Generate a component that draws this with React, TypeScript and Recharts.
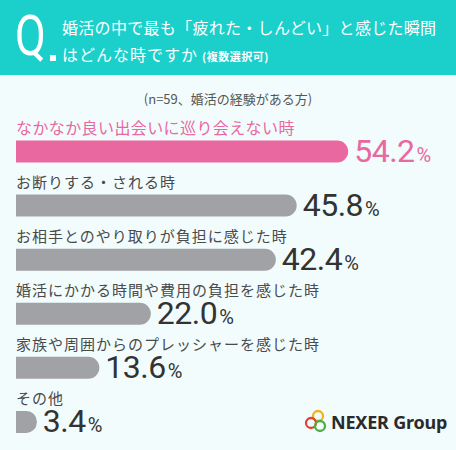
import React from 'react'
import { BarChart, Bar, XAxis, YAxis, LabelList, Cell } from 'recharts'

const categories = [
  'なかなか良い出会いに巡り会えない時',
  'お断りする・される時',
  'お相手とのやり取りが負担に感じた時',
  '婚活にかかる時間や費用の負担を感じた時',
  '家族や周囲からのプレッシャーを感じた時',
  'その他',
]
const values = [54.2, 45.8, 42.4, 22.0, 13.6, 3.4]

const PINK = '#e9689f'
const GREY = '#a1a2a6'
const TEAL = '#1bcfcb'
const FONT = '"Noto Sans CJK JP", "Noto Sans", sans-serif'

const data = categories.map((name, i) => ({ name, value: values[i], top: i === 0 }))

// category name sits just above its bar
const CategoryLabel = (props: any) => {
  const { x, y, index } = props
  const top = index === 0
  return (
    <text
      x={x}
      y={y - 7}
      fill={top ? PINK : '#4a4a4a'}
      fontSize={top ? 16 : 15}
      letterSpacing={top ? 0.4 : 1}
      fontFamily={FONT}
    >
      {categories[index]}
    </text>
  )
}

// big percentage to the right of the bar end
const ValueLabel = (props: any) => {
  const { x, y, width, height, index } = props
  const top = index === 0
  return (
    <text x={x + width + 6} y={y + height - 1} fill={top ? PINK : '#333'} fontFamily="Roboto, sans-serif">
      <tspan fontSize={32} letterSpacing={-0.5}>{values[index].toFixed(1)}</tspan>
      <tspan fontSize={20} dx={2}>%</tspan>
    </text>
  )
}

export default function App() {
  return (
    <div style={{ position: 'fixed', left: 0, top: 0, width: 456, height: 450, background: '#f2fcfd', overflow: 'hidden' }}>
      <div style={{ position: 'absolute', left: 0, top: 0, width: 456, height: 75, background: TEAL }} />
      <div
        style={{
          position: 'absolute', left: 15, top: 4, color: '#fff', fontFamily: 'Roboto, sans-serif',
          fontSize: 56, lineHeight: '64px', fontWeight: 400, transform: 'scaleX(0.8)', transformOrigin: 'left top',
        }}
      >
        Q
      </div>
      <div style={{ position: 'absolute', left: 50, top: 55, width: 6, height: 6, background: '#fff' }} />
      <div style={{ position: 'absolute', left: 62, top: 14, color: '#fff', fontFamily: FONT, fontSize: 16, lineHeight: '27px', letterSpacing: 0.3, whiteSpace: 'nowrap' }}>
        <div>婚活の中で最も「疲れた・しんどい」と感じた瞬間</div>
        <div style={{ letterSpacing: 1 }}>
          はどんな時ですか
          <span style={{ fontSize: 11, fontWeight: 700, letterSpacing: 0.5, marginLeft: 4 }}>(複数選択可)</span>
        </div>
      </div>
      <div style={{ position: 'absolute', left: 0, top: 89, width: 456, textAlign: 'center', color: '#555', fontFamily: FONT, fontSize: 13, lineHeight: '20px' }}>
        (n=59、婚活の経験がある方)
      </div>

      <BarChart
        width={456}
        height={450}
        data={data}
        layout="vertical"
        margin={{ top: 124.5, right: 11, bottom: 1, left: 16 }}
        style={{ position: 'absolute', left: 0, top: 0 }}
      >
        <XAxis type="number" domain={[0, 70]} hide />
        <YAxis type="category" dataKey="name" hide />
        <Bar dataKey="value" barSize={22} radius={[0, 11, 11, 0]} isAnimationActive={false}>
          {data.map((d, i) => (
            <Cell key={i} fill={d.top ? PINK : GREY} />
          ))}
          <LabelList dataKey="value" content={<CategoryLabel />} />
          <LabelList dataKey="value" content={<ValueLabel />} />
        </Bar>
      </BarChart>

      <svg width={40} height={30} style={{ position: 'absolute', left: 300, top: 405 }}>
        <circle cx={18} cy={11} r={5} fill="none" stroke="#f2b21c" strokeWidth={2.3} />
        <circle cx={11} cy={18} r={5} fill="none" stroke="#e0413a" strokeWidth={2.3} />
        <circle cx={20} cy={21} r={5} fill="none" stroke="#4caf3c" strokeWidth={2.3} />
      </svg>
      <div style={{ position: 'absolute', left: 331, top: 410, color: '#2b2b2b', fontFamily: '"Noto Sans", sans-serif', fontWeight: 700, fontSize: 18, lineHeight: '24px', letterSpacing: -0.2 }}>
        NEXER Group
      </div>
    </div>
  )
}
